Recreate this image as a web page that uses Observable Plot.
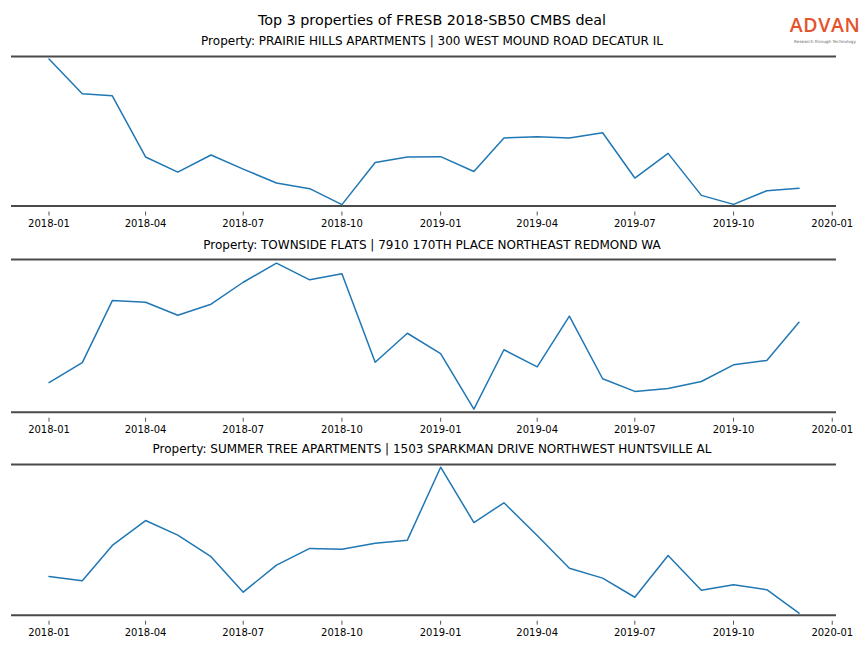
<!DOCTYPE html>
<html>
<head>
<meta charset="utf-8">
<script src="https://cdn.jsdelivr.net/npm/d3@7"></script>
<script src="https://cdn.jsdelivr.net/npm/@observablehq/plot@0.6"></script>
<style>
  html, body { margin: 0; padding: 0; background: #fff; }
  #wrap { position: relative; width: 864px; height: 648px; overflow: hidden; font-family: "DejaVu Sans", sans-serif; }
  .title { position: absolute; left: 0; width: 864px; text-align: center; color: #000; white-space: nowrap; line-height: 1.15; }
  .panel { position: absolute; left: 0; }
  #logo { position: absolute; left: 789px; top: 13px; width: 72px; text-align: center; }
  #logo .brand { font-family: "Open Sans", sans-serif; font-size: 19.5px; font-weight: 600; color: #e4532b; letter-spacing: 0.6px; line-height: 23px; }
  #logo .tag { font-family: "DejaVu Sans", sans-serif; font-size: 4.2px; color: #666; line-height: 5px; margin-top: 2.5px; }
</style>
</head>
<body>
<div id="wrap"></div>
<script>
const mainTitle = "Top 3 properties of FRESB 2018-SB50 CMBS deal";
const panelTitles = [
  "Property: PRAIRIE HILLS APARTMENTS | 300 WEST MOUND ROAD DECATUR IL",
  "Property: TOWNSIDE FLATS | 7910 170TH PLACE NORTHEAST REDMOND WA",
  "Property: SUMMER TREE APARTMENTS | 1503 SPARKMAN DRIVE NORTHWEST HUNTSVILLE AL"
];
const months = ["2018-01","2018-02","2018-03","2018-04","2018-05","2018-06","2018-07","2018-08","2018-09","2018-10","2018-11","2018-12",
                "2019-01","2019-02","2019-03","2019-04","2019-05","2019-06","2019-07","2019-08","2019-09","2019-10","2019-11","2019-12"];
// relative activity index (0 = panel bottom, 100 = panel top)
const prairieHills = [98.3,75.1,73.7,32.8,22.7,34.1,24.7,15.4,11.6,0.9,29.1,32.8,33.0,23.1,45.5,46.3,45.5,49.0,18.7,35.2,7.1,1.1,10.2,11.8];
const townsideFlats = [19.4,32.5,73.1,72.0,63.5,70.7,85.1,97.6,86.7,90.6,32.7,51.7,38.4,2.0,40.9,29.7,62.9,21.9,13.6,15.5,20.1,31.0,33.9,58.9];
const summerTree = [25.7,22.8,46.3,62.8,53.1,38.8,15.3,33.2,44.3,43.8,47.8,49.8,98.2,61.5,74.6,52.9,31.2,24.6,11.9,39.6,16.6,20.2,16.9,1.3];
const tickLabels = ["2018-01","2018-04","2018-07","2018-10","2019-01","2019-04","2019-07","2019-10","2020-01"];
const seriesList = [prairieHills, townsideFlats, summerTree];

const wrap = document.getElementById("wrap");
const parse = d3.utcParse("%Y-%m");
const t0 = parse(months[0]), t1 = parse(months[months.length - 1]);
const pad = 0.05 * (t1 - t0);
const xDomain = [new Date(+t0 - pad), new Date(+t1 + pad)];
const tickDates = tickLabels.map(parse);

function addText(cls, text, top, size) {
  const d = document.createElement("div");
  d.className = cls;
  d.textContent = text;
  d.style.top = top + "px";
  d.style.fontSize = size + "px";
  wrap.appendChild(d);
}

addText("title", mainTitle, 12, 14.3);

const layout = [
  {spineTop: 56, spineBottom: 205.5, titleTop: 35},
  {spineTop: 259, spineBottom: 411.7, titleTop: 239},
  {spineTop: 464, spineBottom: 614.7, titleTop: 443}
];

const mt = 10, mb = 30;
layout.forEach((L, k) => {
  addText("title", panelTitles[k], L.titleTop, 12);
  const data = months.map((m, i) => ({date: parse(m), value: seriesList[k][i]}));
  const fh = L.spineBottom - L.spineTop;
  const chart = Plot.plot({
    width: 864,
    height: mt + fh + mb,
    marginTop: mt,
    marginBottom: mb,
    marginLeft: 11,
    marginRight: 28,
    style: {fontFamily: "DejaVu Sans, sans-serif", fontSize: "10px", background: "transparent", overflow: "visible"},
    x: {type: "utc", domain: xDomain},
    y: {domain: [0, 100], axis: null},
    marks: [
      Plot.axisX({ticks: tickDates, tickFormat: d3.utcFormat("%Y-%m"), tickSize: 4, tickPadding: 4, dy: 6, label: null, fontSize: 10, stroke: "#555"}),
      Plot.ruleY([0, 100], {stroke: "#4a4a4a", strokeWidth: 2}),
      Plot.lineY(data, {x: "date", y: "value", stroke: "#1f77b4", strokeWidth: 1.5})
    ]
  });
  chart.classList.add("panel");
  chart.style.top = (L.spineTop - mt) + "px";
  chart.style.position = "absolute";
  wrap.appendChild(chart);
});

const logo = document.createElement("div");
logo.id = "logo";
logo.innerHTML = '<div class="brand">ADVAN</div><div class="tag">Research through Technology</div>';
wrap.appendChild(logo);
</script>
</body>
</html>
